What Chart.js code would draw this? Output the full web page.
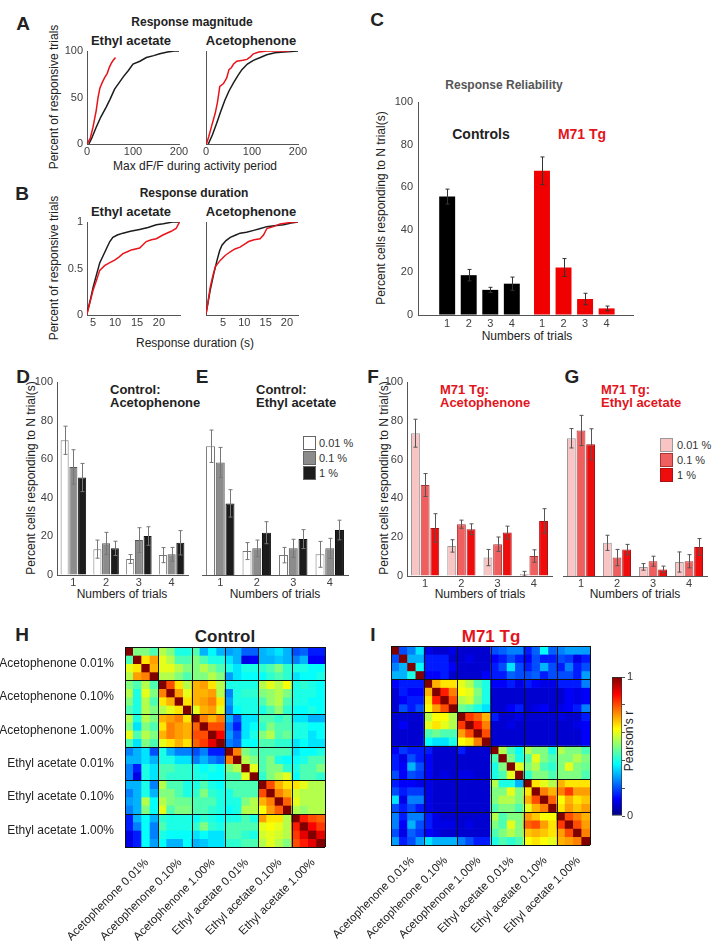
<!DOCTYPE html>
<html>
<head>
  <meta charset="utf-8">
  <title>M71 Tg odor responses</title>
  <script src="https://cdn.jsdelivr.net/npm/chart.js"></script>
  <style>
    body { margin: 0; background: #fff; font-family: "Liberation Sans", Arial, sans-serif; color: #222; }
    #fig { position: relative; width: 722px; height: 941px; overflow: hidden; }
    canvas { position: absolute; }
    .t { position: absolute; white-space: nowrap; transform: translate(-50%, -50%); font-size: 12px; }
    .l { position: absolute; white-space: nowrap; transform: translate(0, -50%); font-size: 13px; font-weight: bold; line-height: 13px; }
    .r { transform: translate(-50%, -50%) rotate(-90deg); }
    .b { font-weight: bold; }
    .p { font-weight: bold; font-size: 19px; }
    .red { color: #e3141b; }
    .key { position: absolute; width: 11px; height: 12px; border: 1px solid #666; }
    .kt { position: absolute; font-size: 11px; color: #333; transform: translate(0, -50%); }
  </style>
</head>
<body>
<div id="fig">
  <div class="t p" style="left:23px;top:24px">A</div>
  <div class="t b" style="left:192px;top:22px">Response magnitude</div>
  <div class="t b" style="left:131px;top:40px;font-size:13px">Ethyl acetate</div>
  <div class="t b" style="left:251px;top:40px;font-size:13px">Acetophenone</div>
  <div class="t r" style="left:54px;top:97px">Percent of responsive trials</div>
  <div class="t" style="left:195px;top:166px">Max dF/F during activity period</div>

  <div class="t p" style="left:22px;top:194px">B</div>
  <div class="t b" style="left:194px;top:193px">Response duration</div>
  <div class="t b" style="left:131px;top:211px;font-size:13px">Ethyl acetate</div>
  <div class="t b" style="left:251px;top:211px;font-size:13px">Acetophenone</div>
  <div class="t r" style="left:54px;top:268px">Percent of responsive trials</div>
  <div class="t" style="left:195px;top:343px">Response duration (s)</div>

  <div class="t p" style="left:377px;top:20px">C</div>
  <div class="t b" style="left:504px;top:85px;color:#555">Response Reliability</div>
  <div class="t b" style="left:481px;top:134px;font-size:14px">Controls</div>
  <div class="t b red" style="left:582px;top:134px;font-size:14px">M71 Tg</div>
  <div class="t r" style="left:381px;top:208px">Percent cells responding to N trial(s)</div>
  <div class="t" style="left:527px;top:336px">Numbers of trials</div>

  <div class="t p" style="left:23px;top:377px">D</div>
  <div class="l" style="left:110px;top:389px">Control:</div>
  <div class="l" style="left:110px;top:402px">Acetophenone</div>
  <div class="t r" style="left:31px;top:478px">Percent cells responding to N trial(s)</div>
  <div class="t" style="left:122px;top:594px">Numbers of trials</div>

  <div class="t p" style="left:202px;top:377px">E</div>
  <div class="l" style="left:256px;top:389px">Control:</div>
  <div class="l" style="left:256px;top:402px">Ethyl acetate</div>
  <div class="t" style="left:275px;top:594px">Numbers of trials</div>
  <div class="key" style="left:303px;top:436px;background:#fff"></div>
  <div class="key" style="left:303px;top:451px;background:#8c8c8c"></div>
  <div class="key" style="left:303px;top:466px;background:#1c1c1c"></div>
  <div class="kt" style="left:319px;top:443px">0.01 %</div>
  <div class="kt" style="left:319px;top:458px">0.1 %</div>
  <div class="kt" style="left:319px;top:473px">1 %</div>

  <div class="t p" style="left:373px;top:377px">F</div>
  <div class="l red" style="left:440px;top:389px">M71 Tg:</div>
  <div class="l red" style="left:440px;top:402px">Acetophenone</div>
  <div class="t r" style="left:384px;top:478px">Percent cells responding to N trial(s)</div>
  <div class="t" style="left:480px;top:594px">Numbers of trials</div>

  <div class="t p" style="left:572px;top:377px">G</div>
  <div class="l red" style="left:601px;top:389px">M71 Tg:</div>
  <div class="l red" style="left:601px;top:402px">Ethyl acetate</div>
  <div class="t" style="left:635px;top:594px">Numbers of trials</div>
  <div class="key" style="left:660px;top:438px;background:#f9c4c4;border-color:#999"></div>
  <div class="key" style="left:660px;top:453px;background:#ef5f5f;border-color:#a33"></div>
  <div class="key" style="left:660px;top:468px;background:#ee0c0c;border-color:#a11"></div>
  <div class="kt" style="left:677px;top:445px">0.01 %</div>
  <div class="kt" style="left:677px;top:460px">0.1 %</div>
  <div class="kt" style="left:677px;top:475px">1 %</div>

  <div class="t p" style="left:22px;top:635px">H</div>
  <div class="t b" style="left:225px;top:637px;font-size:17px">Control</div>
  <div class="t p" style="left:373px;top:635px">I</div>
  <div class="t b red" style="left:491px;top:637px;font-size:17px">M71 Tg</div>
  <div class="t r" style="left:629px;top:741px">Pearson's r</div>
</div>

<script>
  // ---- A: response magnitude, cumulative curves [x, percent]
  const magEthylCtrl = [[4,0],[10,6],[20,18],[30,29],[42,40],[50,48],[60,59],[70,66],[80,73],[90,79],[100,86],[115,89],[129,93],[145,95],[158,97],[175,99],[190,100],[200,100]];
  const magEthylM71 = [[0,0],[7,6],[13,18],[20,36],[24,50],[28,60],[33,66],[38,71],[44,76],[49,83],[53,87],[57,90],[62,93]];
  const magAcetoCtrl = [[5,0],[14,10],[23,22],[32,35],[41,47],[50,57],[60,66],[70,74],[78,80],[90,86],[103,90],[118,93],[132,96],[150,98],[169,99],[185,99.5],[200,100]];
  const magAcetoM71 = [[1,0],[6,8],[12,19],[20,33],[25,45],[30,62],[38,65],[45,71],[50,80],[55,82],[60,86],[67,89],[80,90],[89,91],[97,94],[103,97],[115,99],[132,100],[182,100]];

  // ---- B: response duration, cumulative curves [seconds, fraction]
  const durEthylCtrl = [[3.6,0.02],[4.3,0.15],[5,0.30],[5.8,0.44],[6.5,0.56],[7.3,0.64],[8.1,0.72],[8.8,0.79],[9.5,0.835],[10.5,0.86],[11.8,0.88],[13.5,0.90],[15.6,0.92],[17.5,0.94],[19.4,0.97],[21,0.98],[23.1,1.0],[24.7,1.0]];
  const durEthylM71 = [[3.6,0.01],[4.3,0.14],[5,0.27],[5.8,0.38],[6.5,0.48],[7.6,0.53],[8.7,0.56],[9.9,0.59],[10.8,0.62],[11.8,0.66],[12.8,0.68],[13.7,0.70],[15.6,0.72],[17.1,0.79],[18.3,0.81],[19.4,0.82],[20.9,0.86],[22.8,0.90],[23.9,0.93],[24.7,1.0]];
  const durAcetoCtrl = [[1,0.01],[1.5,0.14],[2,0.27],[2.8,0.44],[3.6,0.59],[4.2,0.69],[4.75,0.75],[5.7,0.80],[6.7,0.835],[8,0.86],[9,0.88],[10.5,0.89],[12.2,0.91],[13.8,0.93],[15.3,0.95],[17,0.96],[19.2,0.97],[21,0.99],[22.6,1.0]];
  const durAcetoM71 = [[1,0.01],[1.5,0.15],[2,0.30],[2.6,0.42],[3.2,0.52],[4.4,0.59],[5.5,0.64],[6.7,0.68],[7.8,0.71],[9,0.73],[10,0.76],[11,0.79],[12.3,0.81],[13.7,0.82],[14.5,0.86],[15.3,0.93],[16.8,0.95],[18.4,0.98],[20,0.99],[21.5,1.0],[22.6,1.0]];

  // ---- C: reliability
  const trialLabels = ['1', '2', '3', '4'];
  const ctrlMean = [55.6, 18.7, 11.8, 14.7];
  const ctrlErr = [3.5, 2.7, 1.2, 3.1];
  const m71Mean = [67.7, 22.3, 7.5, 3.1];
  const m71Err = [6.5, 4.2, 2.7, 1.1];

  // ---- D-G: per concentration (rows: 0.01 %, 0.1 %, 1 %)
  const doseLabels = ['0.01 %', '0.1 %', '1 %'];
  const ctrlAcetoMean = [[69.8, 13.4, 8.3, 10.3], [56, 16.4, 18.1, 10.7], [50.5, 13.8, 20.2, 16.7]];
  const ctrlAcetoErr = [[7.3, 4.7, 2.3, 3.9], [8.9, 5.7, 6.4, 3.6], [7.3, 3.7, 4.8, 6.3]];
  const ctrlEthylMean = [[66.7, 12.4, 10.3, 10.7], [58.3, 13.8, 13.8, 13.8], [37.1, 21.9, 18.6, 23.3]];
  const ctrlEthylErr = [[8.4, 4.4, 4.0, 6.7], [7.8, 4.3, 4.7, 5.2], [7.1, 5.7, 4.9, 5.1]];
  const m71AcetoMean = [[73.6, 15.5, 9.5, 1.2], [46.9, 26.7, 16.4, 10.3], [24.8, 24.1, 22.4, 28.4]];
  const m71AcetoErr = [[7.2, 3.2, 4.2, 1.2], [5.9, 2.1, 3.7, 3.2], [7.3, 2.8, 3.3, 6.3]];
  const m71EthylMean = [[71, 17.1, 4.7, 7.2], [75, 9.5, 7.6, 7.6], [67.9, 13.6, 3.4, 15]];
  const m71EthylErr = [[5, 3.9, 1.7, 5.2], [7.8, 4.2, 2.6, 3.4], [8, 2.7, 1.7, 4.3]];

  // ---- H, I: Pearson's r x100, 6 conditions x 4 trials
  const conditionLabels = ['Acetophenone 0.01%', 'Acetophenone 0.10%', 'Acetophenone 1.00%', 'Ethyl acetate 0.01%', 'Ethyl acetate 0.10%', 'Ethyl acetate 1.00%'];
  const controlCorr = [
    [100,50,50,45, 55,50,40,40, 45,30,37,30, 28,30,22,22, 30,32,35,30, 20,22,15,15],
    [45,100,65,72, 60,55,45,45, 50,45,40,40, 35,30,10,12, 30,30,32,30, 25,30,12,12],
    [60,65,100,70, 60,60,55,50, 50,55,50,45, 40,35,40,40, 42,45,50,42, 40,40,38,38],
    [55,72,75,100, 55,55,50,45, 50,50,55,50, 28,35,38,38, 38,42,45,42, 35,38,38,40],
    [50,45,55,45, 100,80,65,55, 70,72,65,55, 40,40,40,40, 55,60,55,62, 40,42,40,38],
    [55,40,60,50, 75,100,72,60, 70,70,72,55, 25,40,42,42, 50,52,55,50, 40,40,40,38],
    [50,40,55,45, 65,70,100,65, 70,72,75,65, 28,40,40,40, 45,52,55,45, 40,40,38,38],
    [45,40,55,50, 55,60,65,100, 60,70,72,60, 25,38,40,40, 40,45,52,42, 38,38,40,38],
    [55,40,55,50, 70,72,75,65, 100,75,70,75, 30,20,35,35, 45,45,42,45, 35,35,30,30],
    [50,35,50,45, 65,75,72,70, 78,100,80,80, 25,15,35,38, 42,50,45,45, 40,40,38,38],
    [60,45,55,50, 70,75,72,70, 80,80,100,88, 28,20,35,40, 50,55,45,48, 40,40,35,38],
    [45,35,50,45, 60,65,70,65, 78,82,90,100, 25,22,38,38, 45,45,42,42, 35,38,35,35],
    [25,30,35,20, 40,30,25,25, 20,25,15,15, 100,75,50,45, 45,45,45,45, 35,38,38,40],
    [30,30,35,30, 40,40,35,35, 25,30,25,22, 75,100,55,50, 45,50,40,38, 38,40,45,45],
    [25,15,40,35, 45,45,42,42, 40,38,40,38, 50,55,100,60, 45,50,50,42, 40,45,45,50],
    [25,10,40,35, 45,42,42,42, 40,40,38,38, 45,45,60,100, 42,50,55,60, 38,45,45,42],
    [30,30,40,25, 55,45,45,40, 40,45,40,38, 45,45,45,45, 100,80,70,65, 65,60,55,55],
    [25,30,40,30, 50,50,45,40, 42,50,42,40, 40,45,45,45, 80,100,75,70, 58,55,55,55],
    [28,30,55,38, 55,50,48,48, 45,45,45,40, 40,40,50,55, 70,75,100,78, 60,55,55,55],
    [25,30,50,38, 60,45,50,50, 45,45,42,40, 38,40,55,55, 62,72,78,100, 55,52,55,55],
    [15,30,38,30, 42,40,40,40, 38,42,40,38, 40,40,45,40, 72,65,65,55, 100,85,80,78],
    [15,25,38,25, 45,40,40,40, 42,50,42,40, 45,45,45,45, 60,62,60,55, 85,100,88,82],
    [10,15,38,25, 40,38,38,38, 35,38,35,35, 45,45,42,40, 58,60,58,55, 82,90,100,90],
    [10,15,38,28, 38,30,30,38, 30,32,35,35, 42,42,45,45, 55,60,55,50, 80,85,90,100]
  ];
  const m71Corr = [
    [100,20,25,35, 10,8,8,10, 8,8,8,8, 20,22,25,25, 15,22,38,22, 25,28,28,28],
    [20,100,30,30, 15,15,15,8, 8,10,8,8, 12,15,20,15, 12,20,15,15, 20,18,10,15],
    [25,30,100,38, 15,15,15,12, 8,8,8,8, 15,20,35,20, 15,20,30,20, 15,25,15,20],
    [30,30,40,100, 12,12,15,8, 8,8,8,12, 15,15,22,20, 20,22,15,20, 20,20,15,28],
    [12,15,15,15, 100,70,65,65, 60,55,45,40, 12,12,15,10, 15,12,10,10, 15,15,15,25],
    [8,15,12,12, 70,100,85,75, 62,60,50,40, 8,8,8,8, 8,8,8,8, 8,12,10,12],
    [8,12,15,15, 65,85,100,80, 55,58,48,40, 8,8,8,8, 8,8,8,8, 8,12,10,12],
    [8,20,15,20, 62,72,80,100, 48,45,40,35, 8,8,12,15, 8,10,12,8, 10,12,15,25],
    [8,8,8,8, 55,62,62,55, 100,82,78,70, 15,8,8,10, 8,8,8,8, 10,8,8,15],
    [8,12,8,8, 60,65,60,55, 82,100,85,75, 8,8,10,8, 8,8,8,8, 8,8,10,12],
    [8,8,8,8, 45,48,45,45, 72,80,100,80, 8,8,8,8, 8,8,8,8, 8,8,8,12],
    [8,8,8,8, 38,35,35,40, 62,65,75,100, 8,8,8,8, 8,8,8,8, 8,8,8,12],
    [12,18,15,15, 15,8,8,8, 15,8,8,8, 100,55,45,38, 55,50,50,40, 55,50,50,45],
    [15,10,20,15, 12,8,8,8, 8,8,8,8, 45,100,50,40, 45,60,50,45, 50,50,55,50],
    [15,12,30,20, 12,8,8,8, 8,8,8,8, 40,50,100,60, 50,55,45,42, 50,60,50,48],
    [20,12,20,18, 12,8,10,8, 10,10,8,8, 40,45,60,100, 42,50,50,45, 50,50,50,45],
    [15,12,12,10, 10,8,8,8, 8,8,8,8, 55,40,40,30, 100,65,60,55, 70,65,65,65],
    [20,15,18,18, 10,8,8,8, 8,8,8,8, 50,50,60,50, 65,100,75,70, 75,82,72,72],
    [35,10,25,25, 10,8,8,8, 8,8,8,8, 50,55,55,50, 70,80,100,78, 62,70,65,68],
    [20,15,20,15, 10,8,8,8, 8,8,8,8, 45,50,50,45, 60,70,75,100, 65,72,68,72],
    [25,15,25,25, 15,10,8,8, 8,8,8,8, 55,45,50,50, 72,68,62,62, 100,80,75,70],
    [25,12,30,20, 15,10,10,10, 8,10,8,8, 50,45,60,50, 78,80,72,65, 82,100,80,72],
    [20,10,22,18, 12,10,8,8, 8,8,8,8, 45,50,55,50, 68,70,68,65, 72,80,100,75],
    [28,15,20,28, 35,30,30,30, 25,20,15,15, 40,45,42,45, 62,65,62,60, 70,72,75,100]
  ];

  Chart.defaults.font.family = '"Liberation Sans", Arial, sans-serif';
  Chart.defaults.font.size = 11;
  Chart.defaults.color = '#404040';
  Chart.defaults.animation = false;
  Chart.defaults.plugins.legend.display = false;
  Chart.defaults.plugins.tooltip.enabled = false;

  const RED = '#e8141c';
  const axisGrid = { drawOnChartArea: false, drawTicks: false, color: '#555' };
  const axisBorder = { color: '#555', width: 1 };

  // canvas placed so that the plot area lands on [x0, y0, x1, y1]; pad = [left, top, right, bottom]
  function frame(area, pad) {
    const c = document.createElement('canvas');
    const w = area[2] - area[0] + pad[0] + pad[2];
    const h = area[3] - area[1] + pad[1] + pad[3];
    c.width = w; c.height = h;
    c.style.width = w + 'px'; c.style.height = h + 'px';
    c.style.left = (area[0] - pad[0]) + 'px';
    c.style.top = (area[1] - pad[1]) + 'px';
    document.getElementById('fig').appendChild(c);
    return c;
  }

  function fixedTicks(values) {
    return s => { s.ticks = values.map(v => ({ value: v })); };
  }
  // fixed scale sizes, no extra room for overhanging labels
  const fitX = h => s => { s.height = h; s.paddingLeft = 0; s.paddingRight = 0; };
  const fitY = w => s => { s.width = w; s.paddingTop = 0; s.paddingBottom = 0; };

  function jet(v) {
    const f = t => Math.round(255 * Math.min(1, Math.max(0, t)));
    return 'rgb(' + f(1.5 - Math.abs(4 * v - 3)) + ',' + f(1.5 - Math.abs(4 * v - 2)) + ',' + f(1.5 - Math.abs(4 * v - 1)) + ')';
  }

  // error bars drawn from dataset.errors through the y scale
  const errorBars = {
    id: 'errorBars',
    afterDatasetsDraw(chart) {
      const ctx = chart.ctx, y = chart.scales.y;
      chart.data.datasets.forEach((ds, i) => {
        if (!ds.errors) return;
        const meta = chart.getDatasetMeta(i);
        ctx.save();
        ctx.strokeStyle = ds.errorColor || '#333';
        ctx.lineWidth = 1;
        meta.data.forEach((bar, j) => {
          const v = meta.controller.getParsed(j).y, e = ds.errors[j];
          const top = y.getPixelForValue(v + e), bot = y.getPixelForValue(Math.max(0, v - e));
          const x = Math.round(bar.x) + 0.5;
          ctx.beginPath();
          ctx.moveTo(x, top); ctx.lineTo(x, bot);
          ctx.moveTo(x - 2, top); ctx.lineTo(x + 2, top);
          ctx.moveTo(x - 2, bot); ctx.lineTo(x + 2, bot);
          ctx.stroke();
        });
        ctx.restore();
      });
    }
  };

  // black lines between the 4-trial blocks of the correlation maps
  const blockLines = {
    id: 'blockLines',
    afterDatasetsDraw(chart) {
      const { ctx, scales: { x, y } } = chart;
      ctx.save();
      ctx.strokeStyle = '#111';
      ctx.lineWidth = 1;
      for (let k = 0; k <= 24; k += 4) {
        const px = Math.round(x.getPixelForValue(k - 0.5)) + 0.5;
        const py = Math.round(y.getPixelForValue(k)) + 0.5;
        ctx.beginPath(); ctx.moveTo(px, y.top); ctx.lineTo(px, y.bottom); ctx.stroke();
        ctx.beginPath(); ctx.moveTo(x.left, py); ctx.lineTo(x.right, py); ctx.stroke();
      }
      ctx.restore();
    }
  };

  function cdfChart(area, pad, ctrl, m71, xRange, xTicks, yMax, yTicks, showY) {
    const pts = arr => arr.map(p => ({ x: p[0], y: p[1] }));
    new Chart(frame(area, pad), {
      type: 'line',
      data: {
        datasets: [
          { data: pts(m71), borderColor: RED, borderWidth: 1.5, pointRadius: 0 },
          { data: pts(ctrl), borderColor: '#1c1c1c', borderWidth: 1.5, pointRadius: 0 }
        ]
      },
      options: {
        responsive: false,
        layout: { padding: { top: pad[1], right: pad[2] } },
        scales: {
          x: {
            type: 'linear', min: xRange[0], max: xRange[1],
            afterBuildTicks: fixedTicks(xTicks),
            afterFit: fitX(pad[3]),
            grid: axisGrid, border: axisBorder,
            ticks: { padding: 1, callback: v => String(v) }
          },
          y: {
            type: 'linear', min: 0, max: yMax,
            afterBuildTicks: fixedTicks(yTicks),
            afterFit: fitY(pad[0]),
            grid: axisGrid, border: axisBorder,
            ticks: { display: showY, padding: 4, callback: v => String(v) }
          }
        }
      }
    });
  }

  cdfChart([87, 51, 179, 144], [28, 8, 12, 20], magEthylCtrl, magEthylM71, [0, 200], [0, 100, 200], 100, [0, 50, 100], true);
  cdfChart([206, 51, 298, 144], [4, 8, 12, 20], magAcetoCtrl, magAcetoM71, [0, 200], [0, 100, 200], 100, [0, 50, 100], false);
  cdfChart([87, 222, 180, 315], [28, 8, 8, 20], durEthylCtrl, durEthylM71, [3.6, 24.8], [5, 10, 15, 20], 1, [0, 0.5, 1], true);
  cdfChart([206, 222, 298, 315], [4, 8, 10, 20], durAcetoCtrl, durAcetoM71, [1, 22.6], [5, 10, 15, 20], 1, [0, 0.5, 1], false);

  // C: control and M71 groups on one axis, second group shifted right
  const GROUP_SHIFT = 4.4;
  const cPos = trialLabels.map((t, i) => i).concat(trialLabels.map((t, i) => i + GROUP_SHIFT));
  new Chart(frame([418, 102, 633, 315], [30, 10, 8, 22]), {
    type: 'bar',
    data: {
      datasets: [{
        data: ctrlMean.concat(m71Mean).map((v, i) => ({ x: cPos[i], y: v })),
        errors: ctrlErr.concat(m71Err),
        errorColor: '#333',
        backgroundColor: ctrlMean.map(() => '#000').concat(m71Mean.map(() => '#f00000')),
        categoryPercentage: 0.74,
        barPercentage: 1
      }]
    },
    options: {
      responsive: false,
      layout: { padding: { top: 10, right: 8 } },
      scales: {
        x: {
          type: 'linear', min: -0.73, max: 8.0,
          afterBuildTicks: fixedTicks(cPos),
          afterFit: fitX(22),
          grid: axisGrid, border: axisBorder,
          ticks: { padding: 2, callback: (v, i) => trialLabels[i % 4] }
        },
        y: {
          min: 0, max: 100,
          afterBuildTicks: fixedTicks([0, 20, 40, 60, 80, 100]),
          afterFit: fitY(30),
          grid: axisGrid, border: axisBorder,
          ticks: { padding: 5 }
        }
      }
    },
    plugins: [errorBars]
  });

  function doseChart(area, pad, means, errs, fills, edges, errColor, showY) {
    new Chart(frame(area, pad), {
      type: 'bar',
      data: {
        labels: trialLabels,
        datasets: doseLabels.map((d, k) => ({
          label: d,
          data: means[k],
          errors: errs[k],
          errorColor: errColor,
          backgroundColor: fills[k],
          borderColor: edges[k],
          borderWidth: 1,
          categoryPercentage: 0.8,
          barPercentage: 0.92
        }))
      },
      options: {
        responsive: false,
        layout: { padding: { top: pad[1], right: pad[2] } },
        scales: {
          x: {
            afterFit: fitX(pad[3]),
            grid: axisGrid, border: axisBorder,
            ticks: { padding: 1 }
          },
          y: {
            min: 0, max: 100,
            afterBuildTicks: fixedTicks([0, 20, 40, 60, 80, 100]),
            afterFit: fitY(pad[0]),
            grid: showY ? axisGrid : { display: false },
            border: showY ? axisBorder : { display: false },
            ticks: { display: showY, padding: 4 }
          }
        }
      },
      plugins: [errorBars]
    });
  }

  const greyFills = ['#ffffff', '#8c8c8c', '#1c1c1c'];
  const greyEdges = ['#777', '#555', '#111'];
  const redFills = ['#f9c4c4', '#ef5f5f', '#ee0c0c'];
  const redEdges = ['#999', '#a33', '#a11'];
  doseChart([57, 382, 188, 575], [24, 10, 6, 22], ctrlAcetoMean, ctrlAcetoErr, greyFills, greyEdges, '#777', true);
  doseChart([202, 382, 348, 575], [2, 10, 6, 22], ctrlEthylMean, ctrlEthylErr, greyFills, greyEdges, '#777', false);
  doseChart([407, 382, 552, 576], [24, 10, 6, 22], m71AcetoMean, m71AcetoErr, redFills, redEdges, '#555', true);
  doseChart([563, 382, 707, 576], [2, 10, 6, 22], m71EthylMean, m71EthylErr, redFills, redEdges, '#555', false);

  // H, I: each matrix row is one stacked dataset of unit cells
  const LABEL_NUDGE = 0.6; // rotated names end a little right of the block centre
  function corrMap(area, pad, matrix, showNames) {
    const blockCenters = conditionLabels.map((n, i) => i * 4 + 1.5 + LABEL_NUDGE);
    new Chart(frame(area, pad), {
      type: 'bar',
      data: {
        datasets: matrix.map(row => ({
          data: row.map((v, c) => ({ x: c, y: 1 })),
          backgroundColor: row.map(v => jet(v / 100)),
          borderWidth: 0,
          categoryPercentage: 1,
          barPercentage: 1
        }))
      },
      options: {
        responsive: false,
        layout: { padding: { top: pad[1], right: pad[2] } },
        scales: {
          x: {
            type: 'linear', min: -0.5, max: 23.5, offset: false, stacked: true,
            afterBuildTicks: fixedTicks(blockCenters),
            afterFit: fitX(pad[3]),
            grid: { display: false }, border: { display: false },
            ticks: {
              autoSkip: false, maxRotation: 45, minRotation: 45, padding: 1,
              font: { size: 11.5 }, color: '#222',
              callback: (v, i) => conditionLabels[i]
            }
          },
          y: {
            type: 'linear', min: 0, max: 24, reverse: true, stacked: true,
            afterBuildTicks: fixedTicks(conditionLabels.map((n, i) => i * 4 + 2)),
            afterFit: fitY(pad[0]),
            grid: { display: false }, border: { display: false },
            ticks: {
              display: showNames, padding: 3, font: { size: 12 }, color: '#222',
              callback: (v, i) => conditionLabels[i]
            }
          }
        }
      },
      plugins: [blockLines]
    });
  }

  corrMap([125, 647, 325, 847], [125, 4, 6, 110], controlCorr, true);
  corrMap([391, 646, 590, 845], [112, 4, 6, 110], m71Corr, false);

  // colour bar for Pearson's r
  new Chart(frame([612, 677, 622, 816], [0, 8, 22, 8]), {
    type: 'bar',
    data: {
      labels: [''],
      datasets: [{
        data: [1],
        borderWidth: 1,
        borderColor: '#333',
        borderSkipped: false,
        categoryPercentage: 1,
        barPercentage: 1,
        backgroundColor(c) {
          const a = c.chart.chartArea;
          if (!a) return '#888';
          const g = c.chart.ctx.createLinearGradient(0, a.bottom, 0, a.top);
          for (let i = 0; i <= 16; i++) g.addColorStop(i / 16, jet(i / 16));
          return g;
        }
      }]
    },
    options: {
      responsive: false,
      layout: { padding: { top: 8, bottom: 8 } },
      scales: {
        x: { display: false },
        y: {
          position: 'right', min: 0, max: 1,
          afterBuildTicks: fixedTicks([0, 0.2, 0.4, 0.6, 0.8, 1]),
          afterFit: fitY(22),
          grid: { drawOnChartArea: false, tickLength: 3, color: '#555' },
          border: { display: false },
          ticks: { padding: 2, color: '#333', callback: v => (v === 0 || v === 1) ? String(v) : '' }
        }
      }
    }
  });
</script>
</body>
</html>
